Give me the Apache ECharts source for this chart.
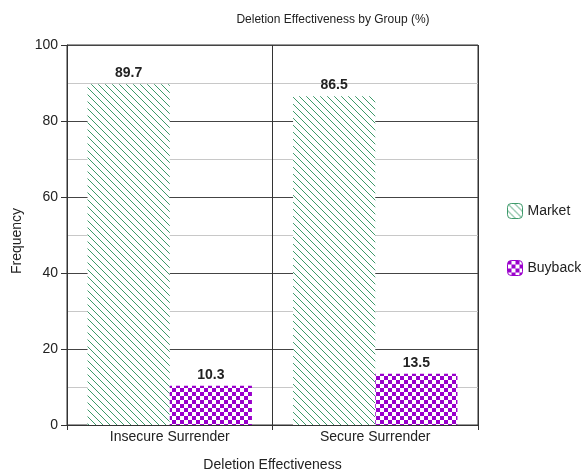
<!DOCTYPE html>
<html>
<head>
<meta charset="utf-8">
<script src="https://cdn.jsdelivr.net/npm/echarts@6/dist/echarts.min.js"></script>
<style>
  html, body { margin: 0; padding: 0; background: #fff; }
  #chart { width: 581px; height: 472px; }
</style>
</head>
<body>
<div id="chart"></div>
<script>
var categories = ['Insecure Surrender', 'Secure Surrender'];
var marketValues = [89.7, 86.5];
var buybackValues = [10.3, 13.5];
var yTicks = [0, 20, 40, 60, 80, 100];

// hatch pattern: green diagonal lines on white
function makeHatch() {
    var c = document.createElement('canvas');
    c.width = 7; c.height = 7;
    var g = c.getContext('2d');
    g.fillStyle = '#fff';
    g.fillRect(0, 0, 7, 7);
    g.strokeStyle = '#3d9a6a';
    g.lineWidth = 1;
    g.beginPath();
    g.moveTo(-1, -1); g.lineTo(8, 8);
    g.moveTo(-8, -1); g.lineTo(1, 8);
    g.moveTo(6, -1); g.lineTo(15, 8);
    g.stroke();
    return c;
}

// checkerboard: purple / white
function makeChecker() {
    var c = document.createElement('canvas');
    c.width = 8; c.height = 8;
    var g = c.getContext('2d');
    g.fillStyle = '#fff';
    g.fillRect(0, 0, 8, 8);
    g.fillStyle = '#9a00cc';
    g.fillRect(0, 0, 4, 4);
    g.fillRect(4, 4, 4, 4);
    return c;
}

var hatch = { image: makeHatch(), repeat: 'repeat' };
var checker = { image: makeChecker(), repeat: 'repeat' };

var myChart = echarts.init(document.getElementById('chart'));
var option = {
    backgroundColor: '#fff',
    textStyle: { fontFamily: 'Liberation Sans, Arial, sans-serif' },
    title: {
        text: 'Deletion Effectiveness by Group (%)',
        left: 328, top: 9, textAlign: 'center',
        textStyle: { fontSize: 12, fontWeight: 'normal', color: '#222' }
    },
    legend: {
        orient: 'vertical',
        left: 507, top: 203, padding: 0,
        itemWidth: 15, itemHeight: 15, itemGap: 41,
        textStyle: { fontSize: 14, color: '#222' },
        data: [
            { name: 'Market', itemStyle: { color: hatch, borderColor: '#3d9a6a', borderWidth: 1 } },
            { name: 'Buyback', itemStyle: { color: checker, borderColor: '#9a00cc', borderWidth: 1 } }
        ]
    },
    grid: {
        left: 67, right: 103, top: 45, bottom: 47,
        outerBoundsMode: 'none',
        show: true, borderColor: '#333', borderWidth: 1
    },
    xAxis: {
        type: 'category',
        data: categories,
        name: 'Deletion Effectiveness',
        nameLocation: 'middle', nameGap: 33,
        nameTextStyle: { fontSize: 14, color: '#222' },
        axisLine: { lineStyle: { color: '#333' } },
        axisTick: { show: true, length: 5, lineStyle: { color: '#333' } },
        axisLabel: { fontSize: 14, color: '#222', margin: 5 },
        splitLine: { show: true, lineStyle: { color: '#333' } }
    },
    yAxis: {
        type: 'value',
        min: 0, max: 100, interval: 20,
        name: 'Frequency',
        nameLocation: 'middle', nameGap: 43,
        nameTextStyle: { fontSize: 14, color: '#222', padding: [0, 0, 0, -12] },
        axisLine: { show: true, lineStyle: { color: '#333' } },
        axisTick: { show: true, length: 6, lineStyle: { color: '#333' } },
        axisLabel: {
            fontSize: 14, color: '#222', margin: 9,
            formatter: function (v) { return yTicks.indexOf(v) >= 0 ? v : ''; }
        },
        splitLine: { show: true, lineStyle: { color: '#444' } },
        minorTick: { show: false, splitNumber: 2 },
        minorSplitLine: { show: true, lineStyle: { color: '#c8c8c8' } }
    },
    series: [
        {
            name: 'Market', type: 'bar',
            data: marketValues,
            barGap: '0%', barCategoryGap: '20%',
            itemStyle: { color: hatch },
            label: { show: true, position: 'top', fontWeight: 'bold', fontSize: 14, color: '#222', distance: 4 }
        },
        {
            name: 'Buyback', type: 'bar',
            data: buybackValues,
            itemStyle: { color: checker },
            label: { show: true, position: 'top', fontWeight: 'bold', fontSize: 14, color: '#222', distance: 4 }
        }
    ]
};
myChart.setOption(option);
window.addEventListener('resize', function () { myChart.resize(); });
</script>
</body>
</html>
